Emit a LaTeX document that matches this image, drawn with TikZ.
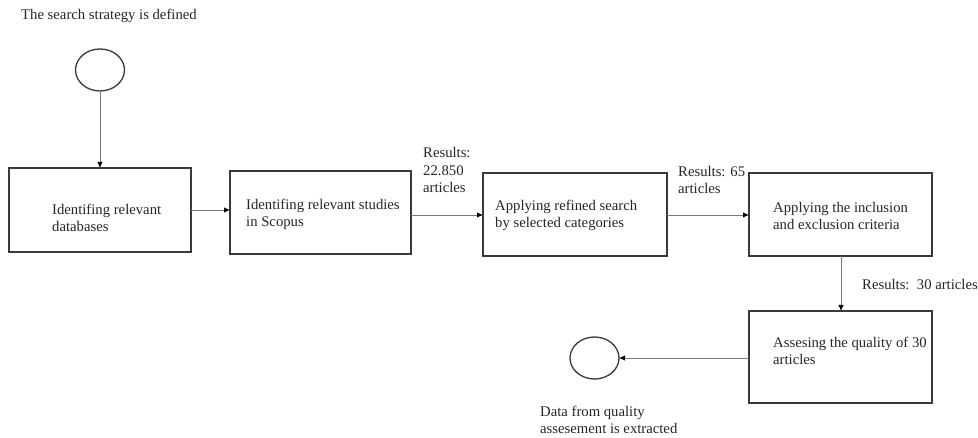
\documentclass[tikz,border=0pt]{standalone}
\usepackage{fontspec}
\setmainfont{Liberation Serif}
\usetikzlibrary{arrows.meta}
\definecolor{boxline}{HTML}{3A3A3A}
\definecolor{conn}{HTML}{7A7A7A}
\definecolor{txt}{HTML}{262626}
\begin{document}
\begin{tikzpicture}[x=1pt,y=-1pt,
  every node/.style={font=\fontsize{14.7}{17.5}\selectfont, text=txt},
  stepbox/.style={draw=boxline, line width=1.3pt, fill=white},
  lbl/.style={anchor=base west, align=left, inner sep=0pt},
  conn/.style={draw=conn, line width=0.9pt, -{Latex[length=6pt,width=5.5pt,color=black]}}
]
\path[use as bounding box, fill=white] (0,0) rectangle (978,438);

% start / end circles
\draw[draw=boxline, line width=1.3pt] (100,70) ellipse [x radius=24.5, y radius=21];
\coordinate (c1s) at (100,91);
\draw[draw=boxline, line width=1.3pt] (594.5,358) ellipse [x radius=24.5, y radius=21];
\coordinate (c2e) at (619,358);

% boxes
\draw[stepbox] (9,168) rectangle (191,252);
\coordinate (b1n) at (100,168); \coordinate (b1e) at (191,210);
\draw[stepbox] (230,171) rectangle (411,254);
\coordinate (b2w) at (230,210); \coordinate (b2e) at (411,215);
\draw[stepbox] (483,173) rectangle (667,256);
\coordinate (b3w) at (483,215); \coordinate (b3e) at (667,215);
\draw[stepbox] (749,173) rectangle (932,256);
\coordinate (b4w) at (749,215); \coordinate (b4s) at (841,256);
\draw[stepbox] (749,311) rectangle (932,403);
\coordinate (b5n) at (841,311); \coordinate (b5w) at (749,358);

% texts (anchor = baseline of the last line)
\node[lbl] (t0) at (21,20) {The search strategy is defined};
\node[lbl] (t1) at (52,232) {Identifing relevant\\databases};
\node[lbl] (t2) at (246,227) {Identifing relevant studies\\in Scopus};
\node[lbl] (t3) at (495,228) {Applying refined search\\by selected categories};
\node[lbl] (t4) at (773,230) {Applying the inclusion\\and exclusion criteria};
\node[lbl] (t5) at (773,365) {Assesing the quality of 30\\articles};
\node[lbl] (r1) at (423,193) {Results:\\22.850\\articles};
\node[lbl] (r2) at (678,194) {Results: 65\\articles};
\node[lbl] (r3) at (862,290) {Results:\ \ 30 articles};
\node[lbl] (t6) at (540,434) {Data from quality\\assesement is extracted};

% connectors
\draw[conn] (c1s) -- (b1n);
\draw[conn] (b1e) -- (b2w);
\draw[conn] (b2e) -- (b3w);
\draw[conn] (b3e) -- (b4w);
\draw[conn] (b4s) -- (b5n);
\draw[conn] (b5w) -- (c2e);
\end{tikzpicture}
\end{document}
